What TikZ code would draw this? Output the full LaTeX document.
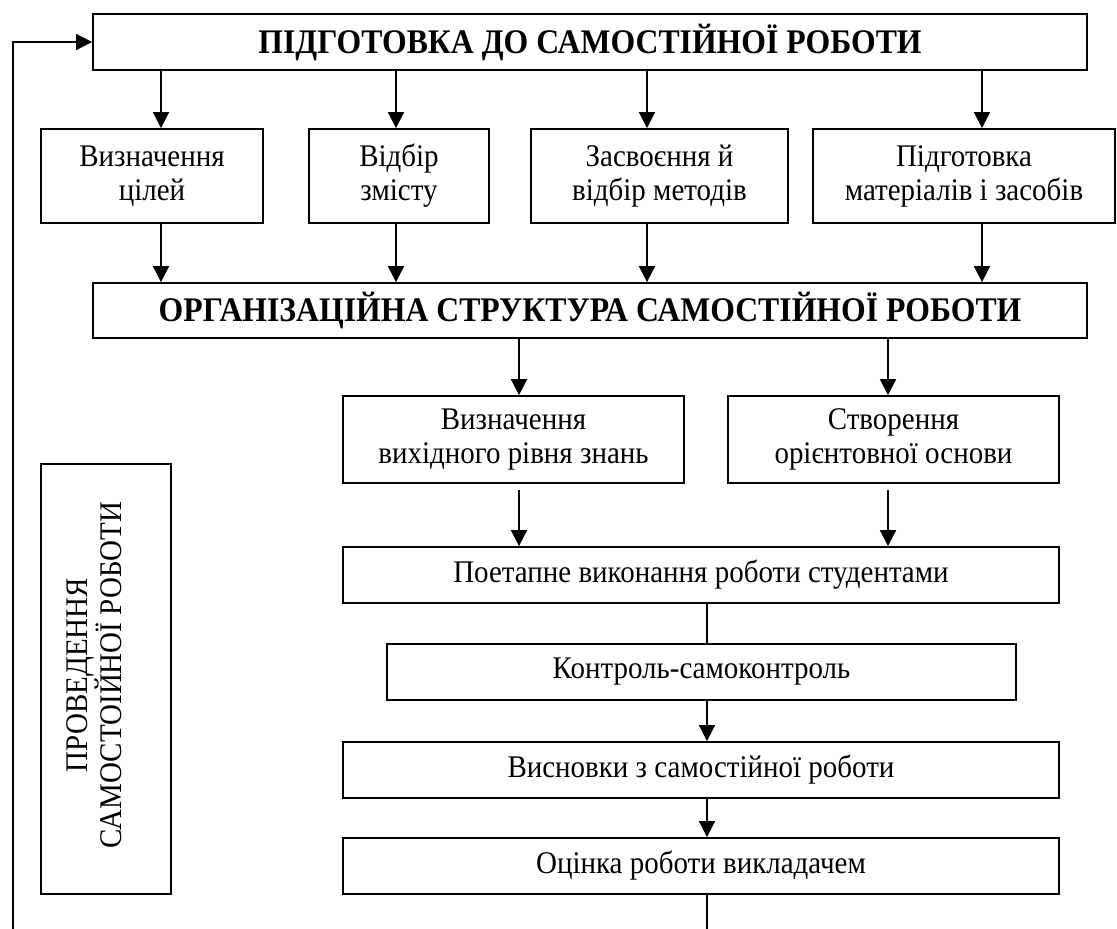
\documentclass[tikz,border=0pt]{standalone}
\usepackage{fontspec}
\setmainfont{Liberation Serif}[FakeStretch=0.92]
\usetikzlibrary{arrows.meta,calc}
\begin{document}
\begin{tikzpicture}[x=1pt,y=-1pt,
  box/.style={draw, line width=1.8pt, inner sep=0pt, align=center,
    font=\fontsize{31.5}{34}\selectfont},
  titlebox/.style={box, font=\fontsize{34.5}{38}\selectfont\bfseries},
  arr/.style={line width=1.8pt, -{Triangle[width=16pt,length=16pt]}},
  plain/.style={line width=1.8pt}]
\useasboundingbox (0,0) rectangle (1117,929);

% boxes
\node[titlebox, minimum width=994pt, minimum height=56pt] (top) at (590,42) {ПІДГОТОВКА ДО САМОСТІЙНОЇ РОБОТИ};
\node[box, minimum width=222pt, minimum height=94pt] (b1) at (152,176) {Визначення\\цілей};
\node[box, minimum width=180pt, minimum height=94pt] (b2) at (399,176) {Відбір\\змісту};
\node[box, minimum width=257pt, minimum height=94pt] (b3) at (659.5,176) {Засвоєння й\\відбір методів};
\node[box, minimum width=302pt, minimum height=94pt] (b4) at (964,176) {Підготовка\\матеріалів і засобів};
\node[titlebox, minimum width=994pt, minimum height=55pt] (org) at (590,310.5) {ОРГАНІЗАЦІЙНА СТРУКТУРА САМОСТІЙНОЇ РОБОТИ};
\node[box, minimum width=341pt, minimum height=87pt] (ra) at (513.5,439.5) {Визначення\\вихідного рівня знань};
\node[box, minimum width=331pt, minimum height=87pt] (rb) at (893.5,439.5) {Створення\\орієнтовної основи};
\node[box, minimum width=716pt, minimum height=56pt] (poet) at (701,575) {Поетапне виконання роботи студентами};
\node[box, minimum width=629pt, minimum height=56pt] (kontr) at (701.5,672) {Контроль-самоконтроль};
\node[box, minimum width=716pt, minimum height=56pt] (vysn) at (701,770) {Висновки з самостійної роботи};
\node[box, minimum width=716pt, minimum height=56pt] (otsin) at (701,866) {Оцінка роботи викладачем};
\node[box, minimum width=130pt, minimum height=430pt] (vbox) at (106,679) {};
\node[rotate=90, align=center, inner sep=0pt, font=\fontsize{31.5}{34}\selectfont] (vtext) at ($(vbox.center)+(-12,-4)$) {ПРОВЕДЕННЯ\\САМОСТОІЙНОЇ РОБОТИ};

% column coordinates
\coordinate (x1) at (161,0);
\coordinate (x2) at (396,0);
\coordinate (x3) at (647,0);
\coordinate (x4) at (982,0);
\coordinate (xa) at (519,0);
\coordinate (xb) at (888,0);
\coordinate (xm) at (707,0);
\coordinate (fb) at (13,929);
\coordinate (endl) at (707,929);

% connectors
\foreach \i/\c in {b1/x1, b2/x2, b3/x3, b4/x4}{
  \draw[arr] (top.south -| \c) -- (\i.north -| \c);
  \draw[arr] (\i.south -| \c) -- (org.north -| \c);
}
\draw[arr] (org.south -| xa) -- (ra.north -| xa);
\draw[arr] (org.south -| xb) -- (rb.north -| xb);
\draw[arr, shorten <=6pt] (ra.south -| xa) -- (poet.north -| xa);
\draw[arr, shorten <=6pt] (rb.south -| xb) -- (poet.north -| xb);
\draw[plain] (poet.south -| xm) -- (kontr.north -| xm);
\draw[arr] (kontr.south -| xm) -- (vysn.north -| xm);
\draw[arr] (vysn.south -| xm) -- (otsin.north -| xm);
\draw[plain] (otsin.south -| xm) -- (endl);
\draw[arr] (fb) |- (top.west);
\end{tikzpicture}
\end{document}
